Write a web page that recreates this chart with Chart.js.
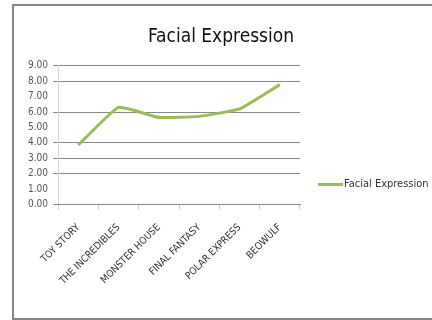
<!DOCTYPE html>
<html>
<head>
<meta charset="utf-8">
<script src="https://cdn.jsdelivr.net/npm/chart.js@4"></script>
<style>
  body { margin: 0; background: #fff; overflow: hidden; }
  #wrap { position: relative; width: 432px; height: 320px; overflow: hidden; }
  #frame { position: absolute; left: 12px; top: 4px; width: 520px; height: 312px; border: 2px solid #878787; pointer-events: none; }
  #legend { position: absolute; left: 318px; top: 177px; font: 11px 'Liberation Sans Narrow', 'DejaVu Sans Condensed', sans-serif; color: #333; white-space: nowrap; }
  #legend span.swatch { display: inline-block; width: 25px; height: 3px; background: #9bbb59; vertical-align: middle; margin-right: 1px; }
</style>
</head>
<body>
<div id="wrap">
  <canvas id="chart" width="432" height="320"></canvas>
  <div id="frame"></div>
  <div id="legend"><span class="swatch"></span>Facial Expression</div>
</div>
<script>
// data
const movies = ['TOY STORY', 'THE INCREDIBLES', 'MONSTER HOUSE', 'FINAL FANTASY', 'POLAR EXPRESS', 'BEOWULF'];
const facialExpression = [3.85, 6.3, 5.65, 5.72, 6.2, 7.78];
const yTicks = [0, 1, 2, 3, 4, 5, 6, 7, 8, 9];

const fontFamily = "'Liberation Sans Narrow', 'DejaVu Sans Condensed', sans-serif";

// grid lines that show up in the picture (7, 5 and 1 are washed out)
const shownGrid = [0, 2, 3, 4, 6, 8, 9];

const chart = new Chart(document.getElementById('chart'), {
    type: 'line',
    data: {
        labels: movies,
        datasets: [{
            label: 'Facial Expression',
            data: facialExpression,
            borderColor: '#9bbb59',
            backgroundColor: '#9bbb59',
            borderWidth: 3,
            pointRadius: 0,
            tension: 0.12
        }]
    },
    options: {
        responsive: false,
        animation: false,
        layout: { padding: { left: 23, right: 13, top: 10, bottom: 21 } },
        plugins: {
            legend: { display: false },
            tooltip: { enabled: false },
            title: {
                display: true,
                text: 'Facial Expression',
                color: '#111',
                font: { family: fontFamily, size: 19, weight: 'normal' },
                padding: { top: 16, bottom: 17 }
            }
        },
        scales: {
            y: {
                min: yTicks[0],
                max: yTicks[yTicks.length - 1],
                afterBuildTicks: axis => { axis.ticks = yTicks.map(v => ({ value: v })); },
                ticks: {
                    autoSkip: false,
                    color: '#555',
                    font: { family: fontFamily, size: 10 },
                    padding: 5,
                    callback: v => Number(v).toFixed(2)
                },
                grid: {
                    color: ctx => shownGrid.includes(ctx.tick && ctx.tick.value) ? '#878787' : 'rgba(0,0,0,0)',
                    tickLength: 5,
                    lineWidth: 1
                },
                border: { color: '#d9d9d9' }
            },
            // empty axis on the right that keeps room for the legend
            side: {
                position: 'right',
                display: true,
                ticks: { display: false },
                grid: { display: false },
                border: { display: false },
                afterFit: axis => { axis.width = 119; }
            },
            x: {
                offset: true,
                ticks: {
                    color: '#333',
                    font: { family: fontFamily, size: 10 },
                    minRotation: 45,
                    maxRotation: 45,
                    padding: 12
                },
                grid: {
                    offset: true,
                    drawOnChartArea: false,
                    color: '#c8c8c8',
                    tickLength: 5
                },
                border: { color: '#878787' }
            }
        }
    }
});
</script>
</body>
</html>
